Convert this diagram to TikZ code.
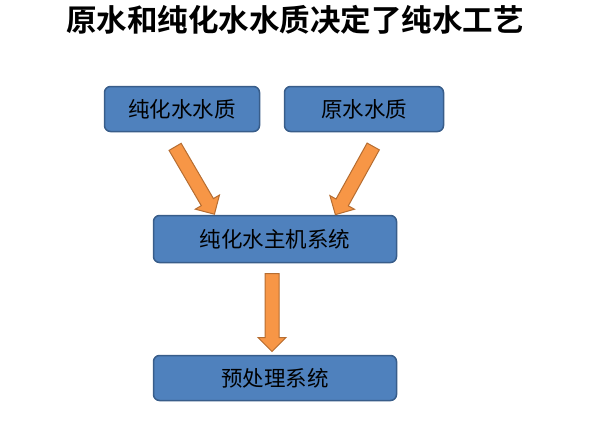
\documentclass[tikz,border=0pt]{standalone}
\usepackage{fontspec}
\newfontfamily\cjk{Noto Sans CJK SC}
\newfontfamily\cjkbold{Noto Sans CJK SC Bold}
\usetikzlibrary{shapes.arrows}
\definecolor{boxblue}{HTML}{4F81BD}
\definecolor{boxedge}{HTML}{385D8A}
\definecolor{arroworange}{HTML}{F79646}
\definecolor{arrowedge}{HTML}{B66D31}
\tikzset{
  stage/.style={rectangle, rounded corners=6pt, fill=boxblue, draw=boxedge, line width=1.5pt,
    font=\cjk\fontsize{21.5}{23}\selectfont, text=black, inner sep=0pt},
  flow/.style={single arrow, fill=arroworange, draw=arrowedge, line width=1pt,
    minimum height=78pt, single arrow head extend=7pt, inner xsep=0pt, inner ysep=6.5pt,
    allow upside down}
}
\begin{document}
\begin{tikzpicture}[x=1pt, y=-1pt]
  \useasboundingbox[fill=white] (0,0) rectangle (589,432);
  \node[font=\cjkbold\fontsize{30.5}{32}\selectfont] (title) at (295,20) {原水和纯化水水质决定了纯水工艺};
  \node[stage, minimum width=155pt, minimum height=45pt] (pure) at (182,109) {纯化水水质};
  \node[stage, minimum width=159pt, minimum height=45pt] (raw) at (364,109) {原水水质};
  \node[stage, minimum width=243pt, minimum height=47pt] (host) at (275,239) {纯化水主机系统};
  \node[stage, minimum width=243pt, minimum height=45pt] (pre) at (275,378) {预处理系统};
  % arrows between the stages
  \coordinate (p1) at ([xshift=-9pt, yshift=-11pt]pure.south);
  \coordinate (h1) at ([xshift=-62pt, yshift=3pt]host.north);
  \coordinate (r1) at ([xshift=11pt, yshift=-11pt]raw.south);
  \coordinate (h2) at ([xshift=62pt, yshift=3pt]host.north);
  \coordinate (h3) at ([xshift=-3pt, yshift=-8pt]host.south);
  \coordinate (q3) at ([xshift=-3pt, yshift=8pt]pre.north);
  \path (p1) -- (h1) node[flow, sloped, midway] {};
  \path (r1) -- (h2) node[flow, sloped, midway] {};
  \path (h3) -- (q3) node[flow, sloped, midway] {};
\end{tikzpicture}
\end{document}
